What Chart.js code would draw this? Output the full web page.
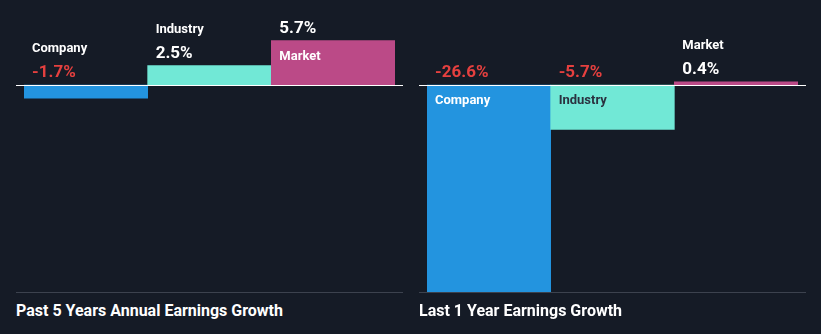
<!DOCTYPE html>
<html>
<head>
<meta charset="utf-8">
<script src="https://cdn.jsdelivr.net/npm/chart.js@4/dist/chart.umd.min.js"></script>
<style>
  html, body { margin: 0; padding: 0; background: #151b26; }
  body { width: 821px; height: 334px; position: relative; overflow: hidden; font-family: Roboto, sans-serif; }
  canvas { position: absolute; top: 0; }
  #left { left: 0; }
  #right { left: 403px; }
  .title { position: absolute; top: 301px; color: #ffffff; font: bold 16px Roboto, sans-serif; line-height: 20px; white-space: nowrap; }
</style>
</head>
<body>
<canvas id="left" width="410" height="300"></canvas>
<canvas id="right" width="410" height="300"></canvas>
<div class="title" style="left:16px">Past 5 Years Annual Earnings Growth</div>
<div class="title" style="left:419px">Last 1 Year Earnings Growth</div>
<script>
const categories = ["Company", "Industry", "Market"];
const fiveYearGrowth = [-1.7, 2.5, 5.7];
const oneYearGrowth = [-26.6, -5.7, 0.4];

const barColors = ["#2394df", "#71e8d6", "#bb4a87"];
const insideNameColors = ["#ffffff", "#2b3240", "#ffffff"];
const negativeColor = "#e5403f";

// both panels share one value range so bar heights compare
const axisMin = Math.min(...fiveYearGrowth, ...oneYearGrowth);
const axisMax = 9;

function formatPct(v) {
  return v.toFixed(1) + "%";
}

const panelDecor = {
  id: "panelDecor",
  beforeDatasetsDraw(chart) {
    const { ctx, chartArea } = chart;
    ctx.save();
    ctx.strokeStyle = "#3c424e";
    ctx.lineWidth = 1;
    ctx.beginPath();
    ctx.moveTo(chartArea.left - 8, chartArea.bottom + 0.5);
    ctx.lineTo(chartArea.right + 8, chartArea.bottom + 0.5);
    ctx.stroke();
    ctx.restore();
  },
  afterDatasetsDraw(chart) {
    const { ctx, chartArea } = chart;
    const zeroY = Math.round(chart.scales.y.getPixelForValue(0));
    const values = chart.data.datasets[0].data;
    const bars = chart.getDatasetMeta(0).data;

    ctx.save();
    ctx.strokeStyle = "#ffffff";
    ctx.lineWidth = 1;
    ctx.beginPath();
    ctx.moveTo(chartArea.left - 8, zeroY + 0.5);
    ctx.lineTo(chartArea.right + 8, zeroY + 0.5);
    ctx.stroke();

    ctx.textAlign = "left";
    ctx.textBaseline = "alphabetic";
    bars.forEach((bar, i) => {
      const v = values[i];
      const x = bar.x - bar.width / 2 + 8;
      const top = Math.min(bar.y, bar.base);
      const size = Math.abs(bar.base - bar.y);
      const valueY = Math.min(top, zeroY) - 8;

      ctx.font = "bold 17px Roboto, sans-serif";
      ctx.fillStyle = v < 0 ? negativeColor : "#ffffff";
      ctx.fillText(formatPct(v), x, valueY);

      ctx.font = "bold 13px Roboto, sans-serif";
      if (size > 30) {
        ctx.fillStyle = insideNameColors[i];
        ctx.fillText(categories[i], x, top + 19);
      } else {
        ctx.fillStyle = "#ffffff";
        ctx.fillText(categories[i], x, valueY - 25);
      }
    });
    ctx.restore();
  },
};

function createPanel(id, values) {
  const canvas = document.getElementById(id);
  return new Chart(canvas, {
    type: "bar",
    data: {
      labels: categories,
      datasets: [{
        data: values,
        backgroundColor: barColors,
        borderWidth: 0,
        categoryPercentage: 1,
        barPercentage: 1,
      }],
    },
    options: {
      responsive: false,
      animation: false,
      devicePixelRatio: 1,
      layout: { padding: { left: 24, right: 15, top: 15, bottom: 8 } },
      plugins: { legend: { display: false }, tooltip: { enabled: false } },
      scales: {
        x: { display: false, grid: { display: false } },
        y: { display: false, min: axisMin, max: axisMax, grid: { display: false } },
      },
    },
    plugins: [panelDecor],
  });
}

createPanel("left", fiveYearGrowth);
createPanel("right", oneYearGrowth);
</script>
</body>
</html>
